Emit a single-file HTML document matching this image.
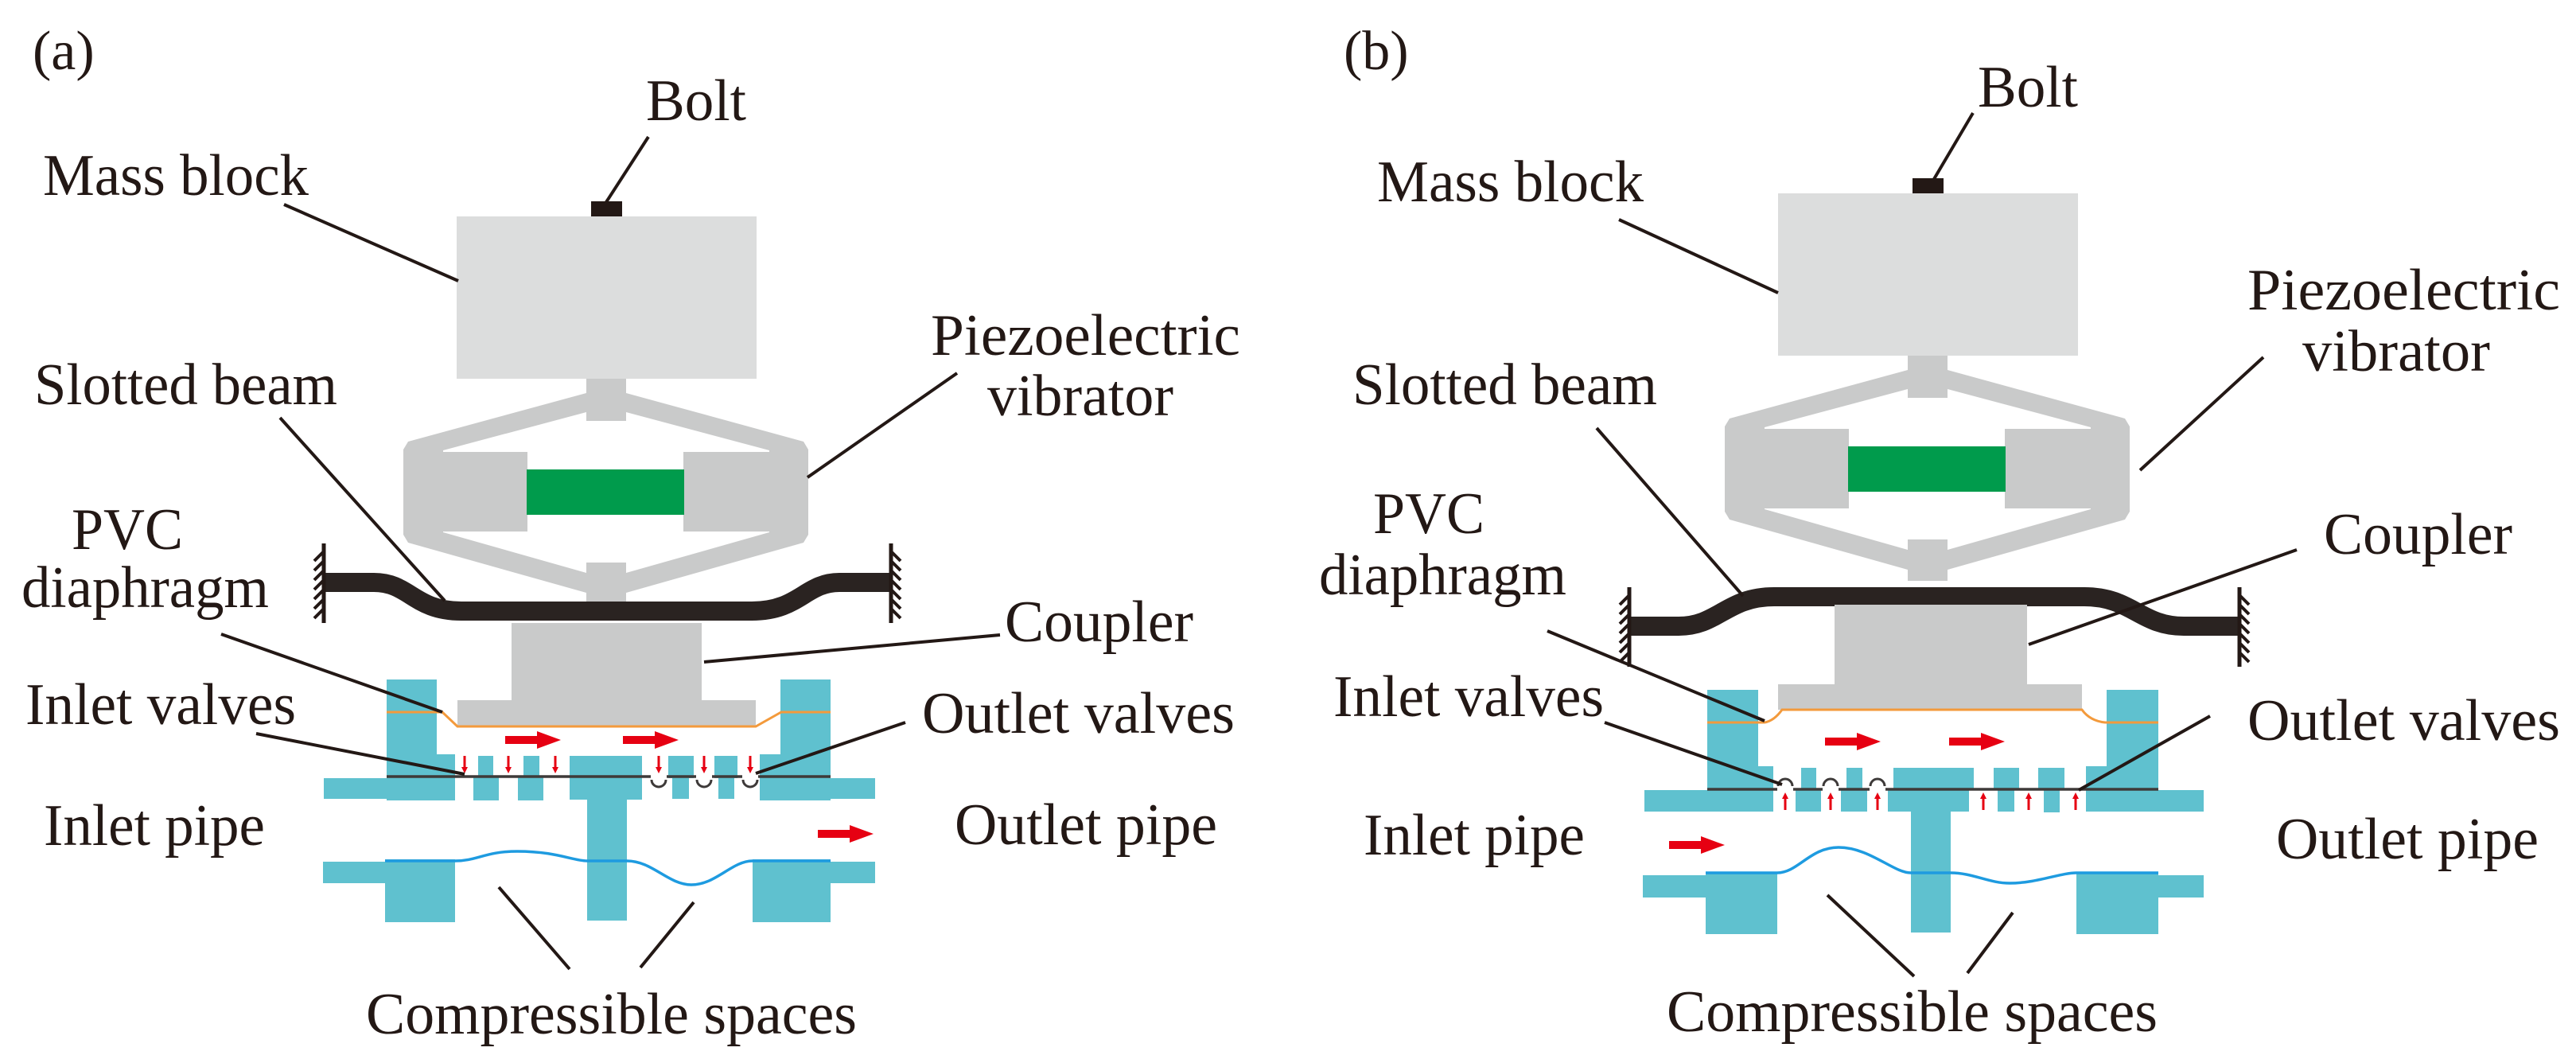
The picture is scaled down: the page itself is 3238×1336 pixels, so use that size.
<!DOCTYPE html>
<html><head><meta charset="utf-8"><style>html,body{margin:0;padding:0;background:#fff}svg{display:block}text{font-family:"Liberation Serif",serif;fill:#231815}</style></head>
<body>
<svg width="3238" height="1336" viewBox="0 0 3238 1336" xmlns="http://www.w3.org/2000/svg">
<defs>
<g id="up">
  <rect x="743" y="253" width="39" height="22" fill="#231815"/>
  <rect x="574" y="272" width="377" height="204" fill="#dcdddd"/>
  <polygon points="737,494 787,494 1010,555 1016,565 1016,672 1010,682 787,745 737,745 513,682 507,672 507,565 513,555" fill="#c9caca"/>
  <polygon points="557,566 737,518 787,518 967,566 967,669 787,720 737,720 557,669" fill="#fff"/>
  <rect x="737" y="476" width="50" height="53" fill="#c9caca"/>
  <rect x="737" y="707" width="50" height="52" fill="#c9caca"/>
  <rect x="507" y="568" width="156" height="100" fill="#c9caca"/>
  <rect x="859" y="568" width="157" height="100" fill="#c9caca"/>
  <rect x="662" y="590" width="198" height="57" fill="#009b4c"/>
</g>
<g id="hatchL"><line x1="0" y1="-50" x2="0" y2="50" stroke="#231815" stroke-width="5"/>
<path d="M0,-40 l-12,12 M0,-28 l-12,12 M0,-16 l-12,12 M0,-4 l-12,12 M0,8 l-12,12 M0,20 l-12,12 M0,32 l-12,12" stroke="#231815" stroke-width="4"/></g>
<g id="hatchR"><line x1="0" y1="-50" x2="0" y2="50" stroke="#231815" stroke-width="5"/>
<path d="M0,-40 l12,12 M0,-28 l12,12 M0,-16 l12,12 M0,-4 l12,12 M0,8 l12,12 M0,20 l12,12 M0,32 l12,12" stroke="#231815" stroke-width="4"/></g>
<polygon id="bigR" points="0,-5 40,-5 40,-11 70,0 40,11 40,5 0,5" fill="#e60012"/>
<polygon id="dn" points="-1.5,-20 1.5,-20 1.5,-6 4,-6 0,2 -4,-6 -1.5,-6" fill="#e60012"/>
<polygon id="upA" points="-1.5,20 1.5,20 1.5,6 4,6 0,-2 -4,6 -1.5,6" fill="#e60012"/>
</defs>

<!-- PANEL A -->
<use href="#up"/>
<path d="M407,732 L470,732 C515,732 520,768 580,768 L945,768 C1005,768 1012,732 1055,732 L1120,732" fill="none" stroke="#2a2321" stroke-width="24"/>
<use href="#hatchL" transform="translate(407,733)"/>
<use href="#hatchR" transform="translate(1120,733)"/>
<rect x="643" y="783" width="239" height="98" fill="#c9caca"/>
<rect x="575" y="880" width="375" height="33" fill="#c9caca"/>
<g fill="#5fc1cf">
<rect x="486" y="854" width="63" height="96"/><rect x="486" y="948" width="86" height="58"/><rect x="407" y="978" width="79" height="26"/>
<rect x="601" y="950" width="19" height="28"/><rect x="595" y="976" width="32" height="30"/>
<rect x="658" y="950" width="20" height="28"/><rect x="651" y="976" width="32" height="30"/>
<rect x="716" y="950" width="91" height="55"/><rect x="738" y="1004" width="50" height="153"/>
<rect x="840" y="950" width="32" height="28"/><rect x="845" y="976" width="21" height="28"/>
<rect x="898" y="950" width="29" height="28"/><rect x="903" y="976" width="20" height="28"/>
<rect x="955" y="948" width="89" height="58"/><rect x="981" y="854" width="63" height="96"/><rect x="1044" y="978" width="56" height="26"/>
<rect x="406" y="1083" width="78" height="27"/><rect x="484" y="1080" width="88" height="79"/>
<rect x="946" y="1080" width="98" height="79"/><rect x="1044" y="1083" width="56" height="27"/>
</g>
<path d="M486,976 L818,976 M838,976 L875,976 M895,976 L933,976 M953,976 L1044,976" stroke="#3e3a39" stroke-width="3.5" fill="none"/>
<path d="M819,980 a9,9 0 0 0 18,0 M876,980 a9,9 0 0 0 18,0 M934,980 a9,9 0 0 0 18,0" stroke="#3e3a39" stroke-width="3" fill="none"/>
<path d="M486,895 L556,895 L575,913 L950,913 L982,895 L1044,895" stroke="#f39a3c" stroke-width="3" fill="none"/>
<path d="M484,1082 L572,1082 C600,1082 610,1070 650,1070 C700,1070 720,1082 738,1082 L788,1082 C820,1082 840,1112 869,1112 C900,1112 920,1082 946,1082 L1044,1082" stroke="#1e9be0" stroke-width="3.5" fill="none"/>
<use href="#bigR" transform="translate(635,930)"/><use href="#bigR" transform="translate(783,930)"/>
<use href="#bigR" transform="translate(1028,1048)"/>
<use href="#dn" transform="translate(584,970)"/><use href="#dn" transform="translate(639,970)"/><use href="#dn" transform="translate(698,970)"/>
<use href="#dn" transform="translate(828,970)"/><use href="#dn" transform="translate(885,970)"/><use href="#dn" transform="translate(943,970)"/>
<g stroke="#231815" stroke-width="4" fill="none">
<line x1="815" y1="172" x2="762" y2="254"/>
<line x1="357" y1="257" x2="576" y2="353"/>
<line x1="1203" y1="469" x2="1015" y2="600"/>
<line x1="352" y1="525" x2="559" y2="755"/>
<line x1="1257" y1="798" x2="885" y2="832"/>
<line x1="278" y1="797" x2="556" y2="895"/>
<line x1="322" y1="922" x2="584" y2="973"/>
<line x1="1138" y1="908" x2="950" y2="972"/>
<line x1="627" y1="1115" x2="716" y2="1218"/>
<line x1="872" y1="1134" x2="805" y2="1216"/>
</g>
<g font-size="74">
<text x="41" y="87" font-size="70">(a)</text>
<text x="812" y="151" textLength="126" lengthAdjust="spacingAndGlyphs">Bolt</text>
<text x="54" y="245" textLength="334" lengthAdjust="spacingAndGlyphs">Mass block</text>
<text x="1170" y="446" textLength="389" lengthAdjust="spacingAndGlyphs">Piezoelectric</text>
<text x="1241" y="522" textLength="234" lengthAdjust="spacingAndGlyphs">vibrator</text>
<text x="43" y="508" textLength="381" lengthAdjust="spacingAndGlyphs">Slotted beam</text>
<text x="90" y="690" textLength="140" lengthAdjust="spacingAndGlyphs">PVC</text>
<text x="27" y="763" textLength="311" lengthAdjust="spacingAndGlyphs">diaphragm</text>
<text x="1263" y="806" textLength="237" lengthAdjust="spacingAndGlyphs">Coupler</text>
<text x="32" y="910" textLength="340" lengthAdjust="spacingAndGlyphs">Inlet valves</text>
<text x="1159" y="921" textLength="393" lengthAdjust="spacingAndGlyphs">Outlet valves</text>
<text x="55" y="1062" textLength="278" lengthAdjust="spacingAndGlyphs">Inlet pipe</text>
<text x="1200" y="1061" textLength="330" lengthAdjust="spacingAndGlyphs">Outlet pipe</text>
<text x="460" y="1299" textLength="617" lengthAdjust="spacingAndGlyphs">Compressible spaces</text>
</g>

<!-- PANEL B -->
<use href="#up" transform="translate(1661,-29)"/>
<path d="M2048,787 L2110,787 C2160,787 2170,750 2230,750 L2620,750 C2680,750 2690,787 2745,787 L2815,787" fill="none" stroke="#2a2321" stroke-width="24"/>
<use href="#hatchL" transform="translate(2048,788)"/>
<use href="#hatchR" transform="translate(2815,788)"/>
<rect x="2306" y="760" width="242" height="101" fill="#c9caca"/>
<rect x="2235" y="860" width="382" height="32" fill="#c9caca"/>
<g fill="#5fc1cf">
<rect x="2146" y="867" width="64" height="98"/><rect x="2146" y="963" width="83" height="57"/><rect x="2067" y="993" width="79" height="27"/>
<rect x="2264" y="965" width="19" height="28"/><rect x="2257" y="993" width="32" height="27"/>
<rect x="2321" y="965" width="20" height="28"/><rect x="2314" y="993" width="33" height="27"/>
<rect x="2380" y="965" width="101" height="28"/><rect x="2373" y="992" width="102" height="28"/><rect x="2402" y="1019" width="50" height="153"/>
<rect x="2506" y="965" width="32" height="28"/><rect x="2511" y="992" width="21" height="28"/>
<rect x="2562" y="965" width="33" height="28"/><rect x="2569" y="992" width="20" height="29"/>
<rect x="2622" y="963" width="91" height="57"/><rect x="2648" y="867" width="65" height="98"/><rect x="2713" y="993" width="57" height="27"/>
<rect x="2065" y="1100" width="79" height="28"/><rect x="2144" y="1097" width="90" height="77"/>
<rect x="2610" y="1097" width="103" height="77"/><rect x="2713" y="1100" width="57" height="28"/>
</g>
<path d="M2146,992 L2234,992 M2254,992 L2291,992 M2311,992 L2350,992 M2370,992 L2713,992" stroke="#3e3a39" stroke-width="3.5" fill="none"/>
<path d="M2235,988 a9,9 0 0 1 18,0 M2292,988 a9,9 0 0 1 18,0 M2351,988 a9,9 0 0 1 18,0" stroke="#3e3a39" stroke-width="3" fill="none"/>
<path d="M2146,908 L2218,908 Q2230,906 2240,892 L2617,892 Q2627,906 2646,908 L2713,908" stroke="#f39a3c" stroke-width="3" fill="none"/>
<path d="M2144,1097 L2234,1097 C2260,1097 2275,1065 2311,1065 C2350,1065 2380,1097 2402,1097 L2452,1097 C2480,1097 2500,1110 2526,1110 C2560,1110 2590,1097 2610,1097 L2713,1097" stroke="#1e9be0" stroke-width="3.5" fill="none"/>
<use href="#bigR" transform="translate(2294,932)"/><use href="#bigR" transform="translate(2450,932)"/>
<use href="#bigR" transform="translate(2098,1062)"/>
<use href="#upA" transform="translate(2244,998)"/><use href="#upA" transform="translate(2301,998)"/><use href="#upA" transform="translate(2360,998)"/>
<use href="#upA" transform="translate(2493,998)"/><use href="#upA" transform="translate(2550,998)"/><use href="#upA" transform="translate(2609,998)"/>
<g stroke="#231815" stroke-width="4" fill="none">
<line x1="2480" y1="142" x2="2431" y2="225"/>
<line x1="2035" y1="276" x2="2235" y2="368"/>
<line x1="2845" y1="449" x2="2690" y2="591"/>
<line x1="2007" y1="538" x2="2191" y2="749"/>
<line x1="2887" y1="691" x2="2550" y2="810"/>
<line x1="1945" y1="793" x2="2218" y2="906"/>
<line x1="2017" y1="908" x2="2240" y2="986"/>
<line x1="2778" y1="900" x2="2613" y2="993"/>
<line x1="2297" y1="1125" x2="2406" y2="1227"/>
<line x1="2530" y1="1147" x2="2473" y2="1223"/>
</g>
<g font-size="74">
<text x="1689" y="87" font-size="70">(b)</text>
<text x="2486" y="134" textLength="126" lengthAdjust="spacingAndGlyphs">Bolt</text>
<text x="1731" y="253" textLength="335" lengthAdjust="spacingAndGlyphs">Mass block</text>
<text x="2825" y="389" textLength="393" lengthAdjust="spacingAndGlyphs">Piezoelectric</text>
<text x="2894" y="466" textLength="236" lengthAdjust="spacingAndGlyphs">vibrator</text>
<text x="1700" y="508" textLength="383" lengthAdjust="spacingAndGlyphs">Slotted beam</text>
<text x="1726" y="670" textLength="140" lengthAdjust="spacingAndGlyphs">PVC</text>
<text x="1658" y="747" textLength="311" lengthAdjust="spacingAndGlyphs">diaphragm</text>
<text x="2921" y="696" textLength="237" lengthAdjust="spacingAndGlyphs">Coupler</text>
<text x="1676" y="900" textLength="340" lengthAdjust="spacingAndGlyphs">Inlet valves</text>
<text x="2825" y="930" textLength="393" lengthAdjust="spacingAndGlyphs">Outlet valves</text>
<text x="1714" y="1074" textLength="278" lengthAdjust="spacingAndGlyphs">Inlet pipe</text>
<text x="2861" y="1079" textLength="330" lengthAdjust="spacingAndGlyphs">Outlet pipe</text>
<text x="2095" y="1296" textLength="617" lengthAdjust="spacingAndGlyphs">Compressible spaces</text>
</g>
</svg>
</body></html>
